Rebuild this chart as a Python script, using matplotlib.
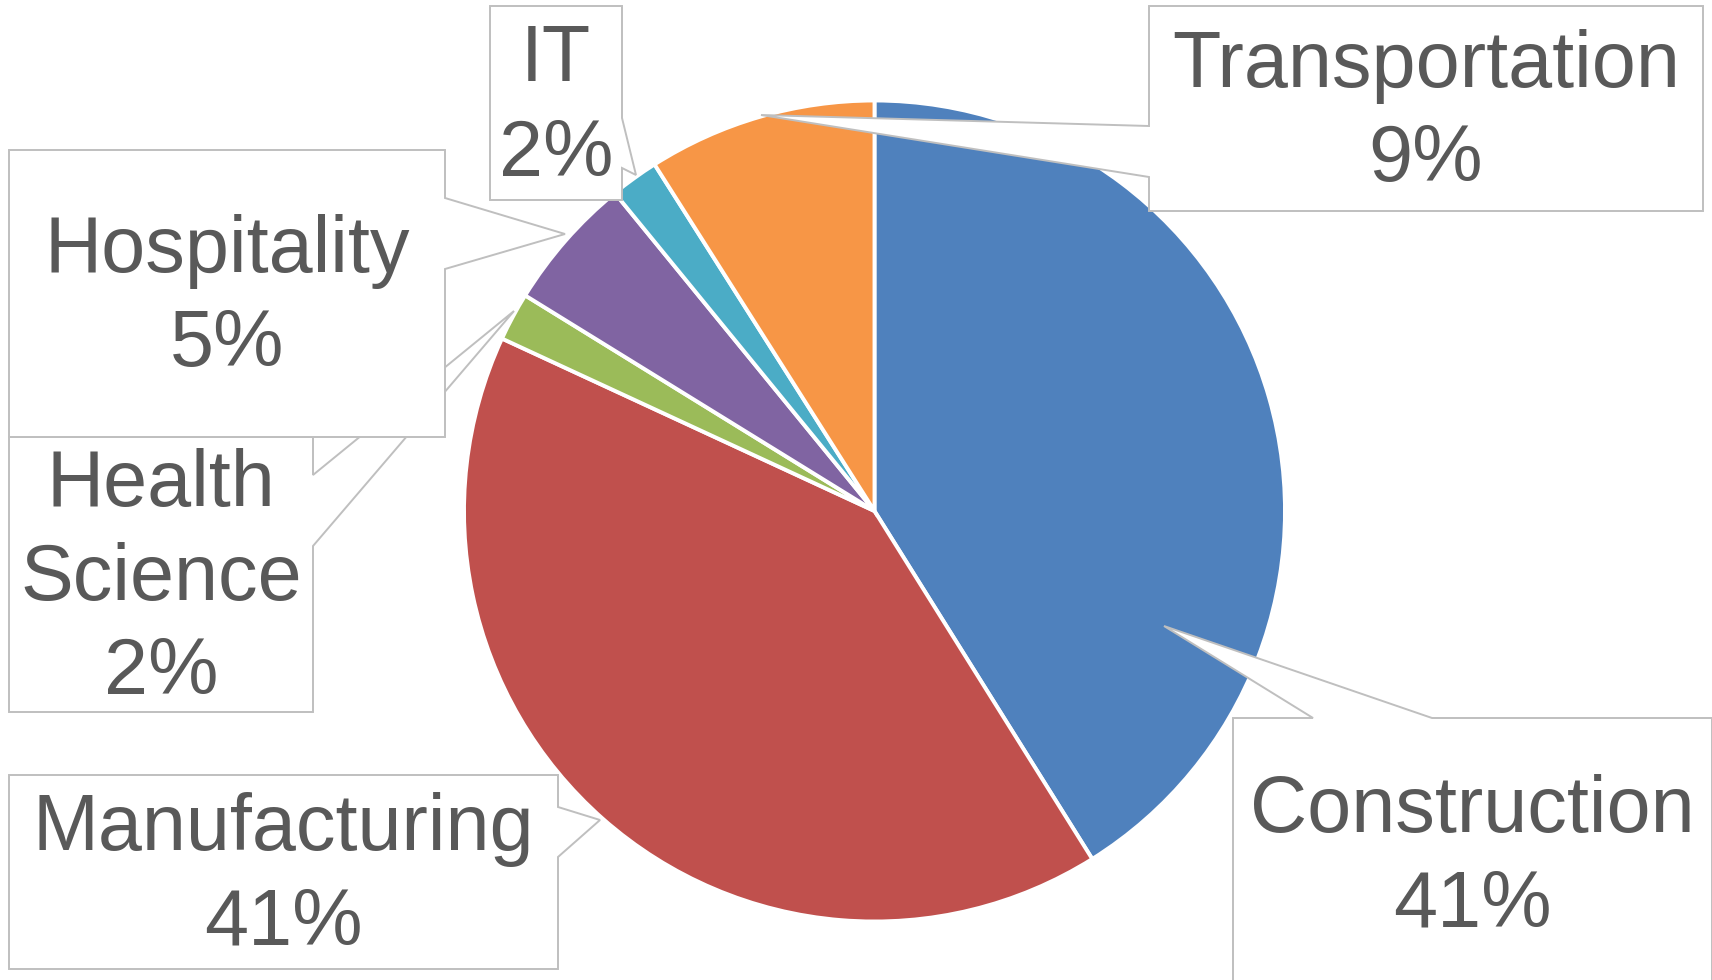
import matplotlib.pyplot as plt
from matplotlib.patches import Polygon

# slices, clockwise from 12 o'clock
categories = ["Construction", "Manufacturing", "Health\nScience", "Hospitality", "IT", "Transportation"]
values = [41.1, 40.8, 1.9, 5.3, 1.9, 9.0]
colors = ["#4F81BD", "#C0504D", "#9BBB59", "#8064A2", "#4BACC6", "#F79646"]

# callout layout in pixel coords: box (left, top, right, bottom), side of pointer,
# the two points where the pointer leaves the box, and pointer tip
callouts = {
    "Construction": ((1233, 718, 1712, 990), "top", (1313, 1432), (1164, 626)),
    "Manufacturing": ((9, 775, 558, 969), "right", (807, 857), (600, 820)),
    "Health\nScience": ((9, 437, 313, 712), "right", (475, 546), (514, 311)),
    "Hospitality": ((9, 150, 445, 437), "right", (198, 269), (565, 234)),
    "IT": ((490, 6, 622, 200), "right", (118, 168), (636, 175)),
    "Transportation": ((1149, 6, 1703, 211), "left", (126, 177), (761, 115)),
}

W, H = 1712, 980
fig = plt.figure(figsize=(W / 100, H / 100), dpi=100)
ax = fig.add_axes([0, 0, 1, 1])

ax.pie(values, colors=colors, startangle=-90, counterclock=True,
       center=(874.5, 511), radius=410.5,
       wedgeprops=dict(edgecolor="white", linewidth=2.8))
ax.set_xlim(0, W)
ax.set_ylim(H, 0)
ax.set_aspect("auto")
ax.axis("off")


def callout_shape(box, side, attach, tip):
    l, t, r, b = box
    if side == "right":
        return [(l, t), (r, t), (r, attach[0]), tip, (r, attach[1]), (r, b), (l, b)]
    if side == "left":
        return [(l, t), (r, t), (r, b), (l, b), (l, attach[1]), tip, (l, attach[0])]
    return [(l, t), (attach[0], t), tip, (attach[1], t), (r, t), (r, b), (l, b)]


total = sum(values)
for name, val in zip(categories, values):
    box, side, attach, tip = callouts[name]
    poly = Polygon(callout_shape(box, side, attach, tip), closed=True,
                   facecolor="white", edgecolor="#BFBFBF", linewidth=1.4, zorder=3)
    ax.add_patch(poly)
    l, t, r, b = box
    ax.text((l + r) / 2, (t + b) / 2 + 5, f"{name}\n{round(val / total * 100)}%",
            ha="center", va="center", fontsize=57, color="#595959",
            family=["Liberation Sans", "DejaVu Sans"], linespacing=1.33, zorder=4)

fig.savefig("out.png", dpi=100)
